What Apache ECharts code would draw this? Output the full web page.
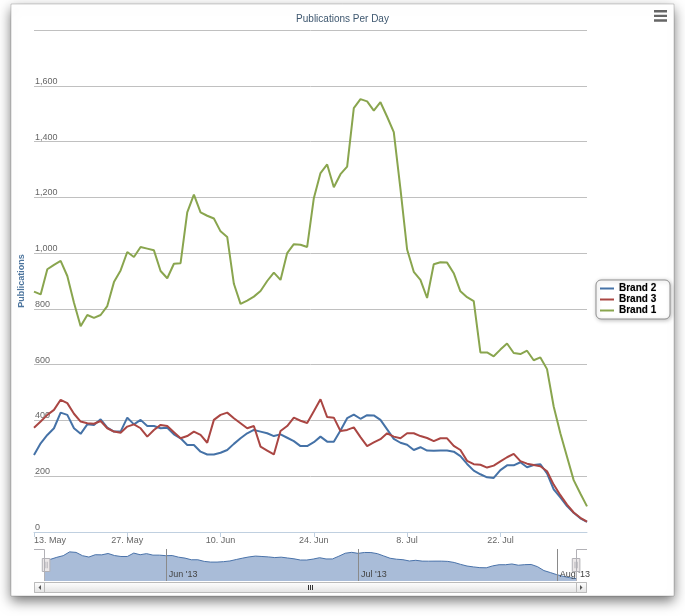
<!DOCTYPE html>
<html><head><meta charset="utf-8">
<script src="https://cdn.jsdelivr.net/npm/echarts@6/dist/echarts.min.js"></script>
<style>html,body{margin:0;padding:0;background:#fff}#c{width:685px;height:616px}</style>
</head><body><div id="c"></div>
<script>
// ---- data (daily, starting 13 May 2013) ----
const startDate = [2013, 4, 13];
const seriesNames = ['Brand 2', 'Brand 3', 'Brand 1'];
const brand2 = [276,318,348,372,428,420,372,352,386,384,404,374,360,360,410,386,402,380,380,372,374,350,
  336,312,312,288,278,278,284,294,316,336,354,366,360,354,344,350,338,326,308,308,322,342,324,324,364,408,
  421,406,419,418,402,368,334,320,313,294,304,292,291,292,292,288,272,244,220,207,196,194,222,239,239,250,
  232,240,243,210,153,124,93,69,49,36];
const brand3 = [374,396,420,438,474,462,424,396,390,388,398,372,360,356,378,386,372,342,366,384,380,358,
  336,344,360,348,320,402,420,428,408,390,372,380,306,292,278,362,380,410,399,391,433,476,412,410,362,366,
  375,340,308,321,333,354,342,336,354,354,344,337,326,336,336,309,294,255,243,241,231,238,253,268,280,254,
  245,240,236,218,170,132,98,70,51,37];
const brand1 = [862,852,942,958,972,918,822,738,778,768,778,810,896,938,1004,986,1022,1016,1010,936,910,962,
  964,1146,1210,1146,1134,1124,1078,1058,890,818,830,844,864,900,930,904,1000,1032,1030,1022,1197,1287,1318,
  1236,1283,1310,1520,1552,1544,1511,1541,1489,1434,1230,1013,933,904,839,960,967,966,928,863,842,828,644,
  644,630,654,676,642,638,650,616,626,584,450,354,270,186,138,92];
const monthNames = ['Jan','Feb','Mar','Apr','May','Jun','Jul','Aug','Sep','Oct','Nov','Dec'];

// category dates
const dates = [];
for (let i = 0; i < brand1.length; i++) {
  const d = new Date(Date.UTC(startDate[0], startDate[1], startDate[2] + i));
  dates.push(d.toISOString().slice(0, 10));
}
function parseD(v) { return new Date(v + 'T00:00:00Z'); }
function tickFmt(v) { const d = parseD(v); return d.getUTCDate() + '. ' + monthNames[d.getUTCMonth()]; }
function navFmt(v) { const d = parseD(v); return monthNames[d.getUTCMonth()] + " '" + String(d.getUTCFullYear()).slice(2); }
function isMonthStart(i, v) { return typeof v === 'string' ? v.endsWith('-01') : dates[i] && dates[i].endsWith('-01'); }

const colors = {'Brand 2': '#4572A7', 'Brand 3': '#AA4643', 'Brand 1': '#89A54E'};
const values = {'Brand 2': brand2, 'Brand 3': brand3, 'Brand 1': brand1};

const chart = echarts.init(document.getElementById('c'), null, {renderer: 'canvas'});
const FONT = 'Liberation Sans, Arial, sans-serif';

const option = {
  animation: false,
  textStyle: {fontFamily: FONT},
  title: {
    text: 'Publications Per Day', left: 'center', top: 9,
    textStyle: {color: '#3E576F', fontSize: 10, fontWeight: 'normal', fontFamily: FONT}
  },
  toolbox: {
    right: 13, top: 5, itemSize: 13, padding: 5,
    iconStyle: {color: '#666', borderWidth: 0},
    emphasis: {iconStyle: {color: '#666', borderWidth: 0}},
    feature: {
      myMenu: {show: true, title: ' ', icon: 'path://M0,0H14V2.6H0Z M0,5H14V7.6H0Z M0,10H14V12.6H0Z', onclick: function () {}}
    }
  },
  legend: {
    data: seriesNames, orient: 'vertical', left: 596, top: 280,
    padding: [3, 3, 3, 3], itemGap: 0, itemWidth: 14, itemHeight: 11,
    backgroundColor: '#fff', borderColor: '#909090', borderWidth: 1, borderRadius: 5,
    shadowColor: 'rgba(0,0,0,0.25)', shadowBlur: 4, shadowOffsetX: 1, shadowOffsetY: 1,
    itemStyle: {opacity: 0},
    lineStyle: {width: 2},
    textStyle: {fontFamily: 'Liberation Sans Narrow, Liberation Sans, Arial', fontWeight: 'bold', fontSize: 10,
      color: '#000', width: 48, lineHeight: 11, textShadowColor: 'rgba(0,0,0,0.35)', textShadowBlur: 1}
  },
  graphic: [
    {type: 'rect', z: -100, silent: true, shape: {x: 11, y: 4, width: 663, height: 592},
      style: {fill: '#fff', stroke: 'rgba(0,0,0,0.18)', lineWidth: 1, shadowBlur: 12, shadowOffsetY: 5, shadowColor: 'rgba(0,0,0,0.55)'}},
    // navigator outline
    {type: 'polyline', z: 50, silent: true, shape: {points: [[34, 549.5], [44.5, 549.5], [44.5, 581]]}, style: {stroke: '#b2b1b6', fill: null, lineWidth: 1}},
    {type: 'polyline', z: 50, silent: true, shape: {points: [[587, 549.5], [576.5, 549.5], [576.5, 581]]}, style: {stroke: '#b2b1b6', fill: null, lineWidth: 1}},
    // scrollbar
    {type: 'rect', z: 50, silent: true, shape: {x: 34.5, y: 582.5, width: 552, height: 10},
      style: {fill: '#eeeeee', stroke: '#bbbbbb', lineWidth: 1}},
    {type: 'rect', z: 51, silent: true, shape: {x: 44.5, y: 582.5, width: 532, height: 10},
      style: {fill: new echarts.graphic.LinearGradient(0, 0, 0, 1, [{offset: 0, color: '#ffffff'}, {offset: 1, color: '#e2e2e2'}]), stroke: '#bbbbbb', lineWidth: 1}},
    {type: 'rect', z: 51, silent: true, shape: {x: 34.5, y: 582.5, width: 10, height: 10},
      style: {fill: new echarts.graphic.LinearGradient(0, 0, 0, 1, [{offset: 0, color: '#ffffff'}, {offset: 1, color: '#e2e2e2'}]), stroke: '#bbbbbb', lineWidth: 1}},
    {type: 'rect', z: 51, silent: true, shape: {x: 576.5, y: 582.5, width: 10, height: 10},
      style: {fill: new echarts.graphic.LinearGradient(0, 0, 0, 1, [{offset: 0, color: '#ffffff'}, {offset: 1, color: '#e2e2e2'}]), stroke: '#bbbbbb', lineWidth: 1}},
    {type: 'polygon', z: 52, silent: true, shape: {points: [[41, 585], [41, 590], [38.5, 587.5]]}, style: {fill: '#555'}},
    {type: 'polygon', z: 52, silent: true, shape: {points: [[580, 585], [580, 590], [582.5, 587.5]]}, style: {fill: '#555'}},
    {type: 'polyline', z: 52, silent: true, shape: {points: [[308.5, 585], [308.5, 590]]}, style: {stroke: '#333', lineWidth: 1}},
    {type: 'polyline', z: 52, silent: true, shape: {points: [[310.5, 585], [310.5, 590]]}, style: {stroke: '#333', lineWidth: 1}},
    {type: 'polyline', z: 52, silent: true, shape: {points: [[312.5, 585], [312.5, 590]]}, style: {stroke: '#333', lineWidth: 1}}
  ],
  grid: [
    {left: 34, right: 98, top: 30, bottom: 84, containLabel: false},
    {left: 44, right: 109, top: 549, height: 32, containLabel: false}
  ],
  xAxis: [
    {
      type: 'category', gridIndex: 0, data: dates, boundaryGap: false,
      axisLine: {lineStyle: {color: '#C0D0E0', width: 1}},
      axisTick: {interval: 13, length: 5, lineStyle: {color: '#C0D0E0'}},
      axisLabel: {interval: 13, color: '#666', fontSize: 9, margin: 4, formatter: tickFmt, alignMinLabel: 'left'},
      splitLine: {show: false}
    },
    {
      type: 'category', gridIndex: 1, data: dates, boundaryGap: false, z: 5,
      axisLine: {show: false}, axisTick: {show: false},
      axisLabel: {inside: true, interval: isMonthStart, formatter: navFmt, align: 'left', padding: [0, 0, 0, 3],
        color: '#444', fontSize: 9, margin: 2},
      splitLine: {show: true, interval: isMonthStart, lineStyle: {color: '#8a8a8a', width: 1}}
    }
  ],
  yAxis: [
    {
      type: 'value', gridIndex: 0, min: 0, max: 1800, interval: 200,
      name: 'Publications', nameLocation: 'middle', nameGap: 8, nameMoveOverlap: false,
      nameTextStyle: {color: '#4d759e', fontWeight: 'bold', fontSize: 9, fontFamily: FONT},
      axisLine: {show: false}, axisTick: {show: false},
      axisLabel: {inside: true, margin: 1, color: '#666', fontSize: 9, verticalAlign: 'bottom', padding: [0, 0, 0, 0],
        showMaxLabel: false, formatter: function (v) { return v.toLocaleString('en-US'); }},
      splitLine: {lineStyle: {color: '#C0C0C0', width: 1}}
    },
    {type: 'value', gridIndex: 1, min: 0, max: 470, show: false}
  ],
  dataZoom: [{
    type: 'slider', xAxisIndex: 0, start: 0, end: 100,
    left: 44, right: 109, top: 549, height: 32, z: 20,
    showDataShadow: false, showDetail: false, brushSelect: false, moveHandleSize: 0,
    backgroundColor: 'rgba(0,0,0,0)', borderColor: 'rgba(0,0,0,0)', fillerColor: 'rgba(0,0,0,0)',
    handleIcon: 'path://M0,0H7V12H0Z M2.5,3V9 M4.5,3V9', handleSize: 13,
    handleStyle: {color: '#ebe7e8', borderColor: '#b2b1b6', borderWidth: 1},
    emphasis: {handleStyle: {color: '#ebe7e8', borderColor: '#b2b1b6', borderWidth: 1}},
    moveHandleStyle: {opacity: 0}
  }],
  series: seriesNames.map(function (n) {
    return {
      name: n, type: 'line', xAxisIndex: 0, yAxisIndex: 0, data: values[n],
      symbol: 'none', smooth: false, silent: true,
      lineStyle: {width: 2, color: colors[n]}, itemStyle: {color: colors[n]}
    };
  }).concat([{
    name: 'Navigator', type: 'line', xAxisIndex: 1, yAxisIndex: 1, data: brand2,
    symbol: 'none', silent: true, z: 1,
    lineStyle: {width: 1, color: '#4a73aa'},
    areaStyle: {color: '#a9bcd8', opacity: 1}
  }])
};
chart.setOption(option);
</script>
</body></html>
